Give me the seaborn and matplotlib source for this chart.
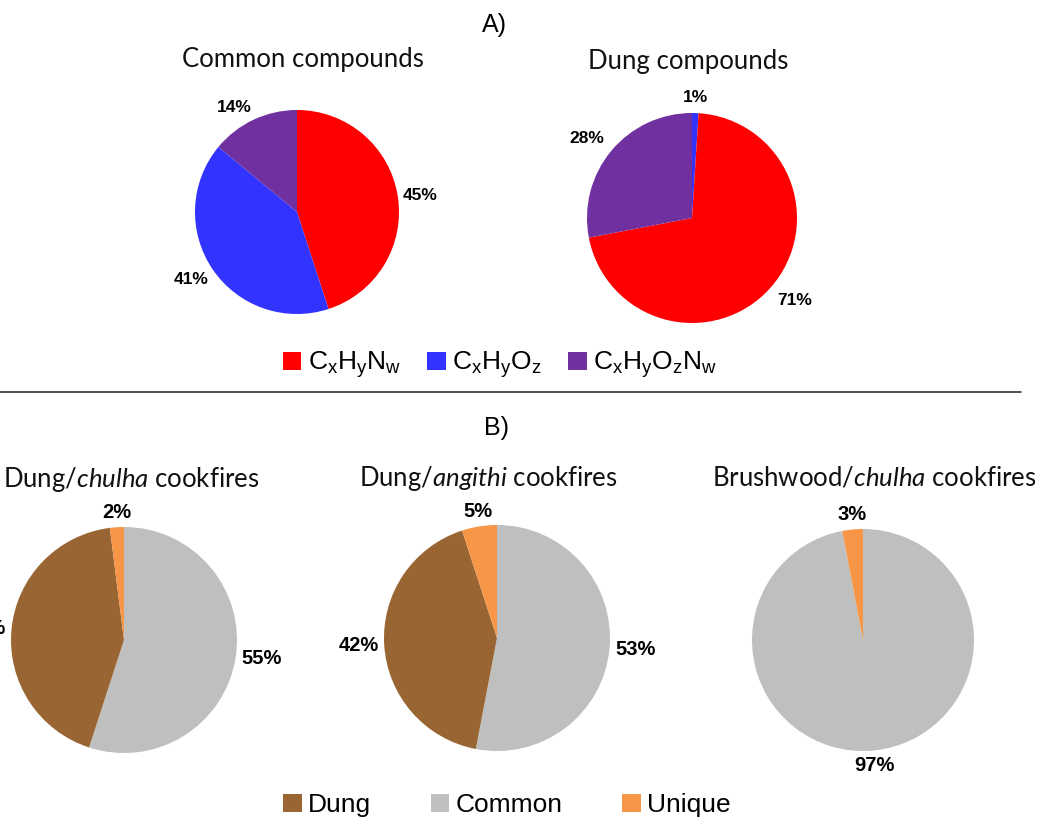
import matplotlib
matplotlib.use("Agg")
import matplotlib.pyplot as plt
import seaborn as sns
import numpy as np
from matplotlib.patches import Patch
from matplotlib.lines import Line2D

# ## Data
compound_labels = [r'$\mathrm{C_xH_yN_w}$', r'$\mathrm{C_xH_yO_z}$', r'$\mathrm{C_xH_yO_zN_w}$']
compound_colors = ['#FF0000', '#3333FF', '#7030A0']
common_values = [45, 41, 14]
dung_values = [71, 1, 28]
common_order = [0, 1, 2]   # clockwise from 12 o'clock
dung_order = [1, 0, 2]

source_labels = ['Dung', 'Common', 'Unique']
source_colors = ['#996633', '#BFBFBF', '#F79646']
chulha_values = [43, 55, 2]
angithi_values = [42, 53, 5]
brushwood_values = [0, 97, 3]
source_order = [1, 0, 2]

sns.set_style('white')
plt.rcParams['font.family'] = ['Liberation Sans', 'DejaVu Sans']
plt.rcParams['mathtext.fontset'] = 'custom'
plt.rcParams['mathtext.rm'] = 'Liberation Sans'
plt.rcParams['mathtext.it'] = 'Lato:italic'
plt.rcParams['text.color'] = 'black'

W, H = 1041, 822
fig = plt.figure(figsize=(W / 100, H / 100), dpi=100)
fig.patch.set_facecolor('white')


def pct_label(p):
    return f'{p:.0f}%' if p > 0.5 else ''


def draw_pie(cx, cy, r, values, colors, order, title, tx, ty, label_size, gap=0.05):
    ax = fig.add_axes([(cx - r) / W, 1 - (cy + r) / H, 2 * r / W, 2 * r / H])
    vals = [values[i] for i in order]
    cols = [colors[i] for i in order]
    wedges, texts, autotexts = ax.pie(
        vals, colors=cols, startangle=90, counterclock=False, radius=1,
        autopct=pct_label, wedgeprops=dict(linewidth=0),
        textprops=dict(fontsize=label_size, fontweight='bold',
                       family='Liberation Sans', color='black'))
    # put the percent labels just outside the rim (like "outside end")
    for w, t in zip(wedges, autotexts):
        ang = np.deg2rad((w.theta1 + w.theta2) / 2)
        ux, uy = np.cos(ang), np.sin(ang)
        t.set_position(((1 + gap) * ux, (1 + gap) * uy))
        t.set_ha('left' if ux > 0.3 else 'right' if ux < -0.3 else 'center')
        t.set_va('bottom' if uy > 0.3 else 'top' if uy < -0.3 else 'center')
    ax.set_xlim(-1, 1)
    ax.set_ylim(-1, 1)
    ax.set_aspect('equal')
    ax.axis('off')
    fig.text(tx / W, 1 - ty / H, title, ha='center', va='center',
             fontsize=18.5, family='Lato', color='#111111')
    return ax


# ### A) compounds
fig.text(494 / W, 1 - 25 / H, 'A)', ha='center', va='center', fontsize=18)
draw_pie(297, 212, 102, common_values, compound_colors, common_order,
         'Common compounds', 303, 60, 12.5)
draw_pie(692, 218, 105, dung_values, compound_colors, dung_order,
         'Dung compounds', 688, 62, 12.5, gap=0.08)

handles_a = [Patch(facecolor=c, edgecolor='none') for c in compound_colors]
fig.legend(handles_a, compound_labels, loc='center', ncol=3, frameon=False,
           bbox_to_anchor=(500 / W, 1 - 365 / H), fontsize=19,
           handlelength=0.7, handleheight=0.7, handletextpad=0.25, columnspacing=1.0)

fig.add_artist(Line2D([0, 1021 / W], [1 - 392 / H, 1 - 392 / H], color='#202020', lw=1.1))

# ### B) cookfires
fig.text(496 / W, 1 - 428 / H, 'B)', ha='center', va='center', fontsize=18)
draw_pie(124, 640, 113, chulha_values, source_colors, source_order,
         r'Dung/$\mathit{chulha}$ cookfires', 131, 480, 14.5)
draw_pie(497, 638, 113, angithi_values, source_colors, source_order,
         r'Dung/$\mathit{angithi}$ cookfires', 488, 478, 14.5)
draw_pie(863, 640, 111, brushwood_values, source_colors, source_order,
         r'Brushwood/$\mathit{chulha}$ cookfires', 874, 478, 14.5)

handles_b = [Patch(facecolor=c, edgecolor='none') for c in source_colors]
fig.legend(handles_b, source_labels, loc='center', ncol=3, frameon=False,
           bbox_to_anchor=(507 / W, 1 - 805 / H), fontsize=19,
           handlelength=0.7, handleheight=0.7, handletextpad=0.25, columnspacing=2.25)

fig.savefig('out.png', dpi=100)
